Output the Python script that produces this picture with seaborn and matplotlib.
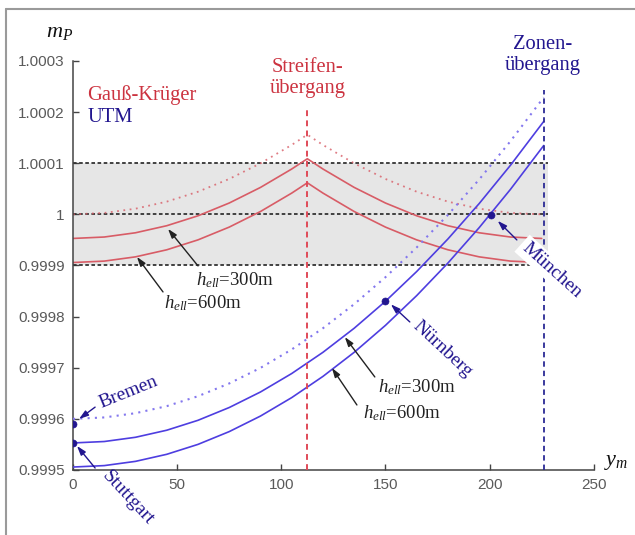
import matplotlib
matplotlib.use("Agg")
import matplotlib.pyplot as plt
import seaborn as sns
from matplotlib.lines import Line2D

# distance from central meridian (km) and scale factor values
gk_x = [0, 15, 30, 45, 60, 75, 90, 105, 112.5, 120, 135, 150, 165, 180, 195, 210, 225]
gk_h0 = [1.0000000, 1.0000028, 1.0000111, 1.0000249, 1.0000443, 1.0000693, 1.0000998, 1.0001358,
         1.0001559, 1.0001358, 1.0000998, 1.0000693, 1.0000443, 1.0000249, 1.0000111, 1.0000028, 1.0000000]
gk_h300 = [0.9999529, 0.9999557, 0.9999640, 0.9999778, 0.9999972, 1.0000222, 1.0000527, 1.0000887,
           1.0001088, 1.0000887, 1.0000527, 1.0000222, 0.9999972, 0.9999778, 0.9999640, 0.9999557, 0.9999529]
gk_h600 = [0.9999058, 0.9999086, 0.9999169, 0.9999307, 0.9999501, 0.9999751, 1.0000056, 1.0000416,
           1.0000617, 1.0000416, 1.0000056, 0.9999751, 0.9999501, 0.9999307, 0.9999169, 0.9999086, 0.9999058]

utm_x = [0, 15, 30, 45, 60, 75, 90, 105, 120, 135, 150, 165, 180, 195, 210, 226]
utm_h0 = [0.9996000, 0.9996028, 0.9996111, 0.9996249, 0.9996443, 0.9996693, 0.9996997, 0.9997358,
          0.9997773, 0.9998244, 0.9998771, 0.9999353, 0.9999990, 1.0000682, 1.0001430, 1.0002289]
utm_h300 = [0.9995529, 0.9995557, 0.9995640, 0.9995778, 0.9995972, 0.9996222, 0.9996526, 0.9996887,
            0.9997302, 0.9997773, 0.9998300, 0.9998882, 0.9999519, 1.0000211, 1.0000959, 1.0001818]
utm_h600 = [0.9995058, 0.9995086, 0.9995169, 0.9995307, 0.9995501, 0.9995751, 0.9996055, 0.9996416,
            0.9996831, 0.9997302, 0.9997829, 0.9998411, 0.9999048, 0.9999740, 1.0000488, 1.0001347]

cities = ["Bremen", "Stuttgart", "Nürnberg", "München"]
city_x = [0, 0, 150, 200.6]
city_y = [0.99959, 0.999553, 0.99983, 0.999999]

band_x = [0, 228]
band_lines = [0.9999, 1.0, 1.0001]
strip_edge = 112.5
zone_edge = 226

xticks = [0, 50, 100, 150, 200, 250]
yticks = [0.9995, 0.9996, 0.9997, 0.9998, 0.9999, 1.0, 1.0001, 1.0002, 1.0003]
ytick_labels = ["0.9995", "0.9996", "0.9997", "0.9998", "0.9999", "1", "1.0001", "1.0002", "1.0003"]

RED = "#d85c66"
RED_TXT = "#cc3340"
BLUE = "#4e3ee0"
BLUE_DOT = "#8478ee"
NAVY = "#22168f"

sns.set_style("ticks")
plt.rcParams["font.family"] = ["Liberation Sans", "DejaVu Sans"]
plt.rcParams["mathtext.fontset"] = "custom"
plt.rcParams["mathtext.rm"] = "Liberation Serif"
plt.rcParams["mathtext.it"] = "Liberation Serif:italic"
SERIF = ["Liberation Serif", "DejaVu Serif"]

fig = plt.figure(figsize=(6.35, 5.35), dpi=100)
ax = fig.add_axes([0.115, 0.1215, 0.82, 0.7645])

# tolerance band
ax.fill_between(band_x, band_lines[0], band_lines[-1], color="#e6e6e6", lw=0, zorder=0)
for yv in band_lines:
    ax.plot(band_x, [yv, yv], color="#333333", lw=1.3, ls=(0, (2, 1.4)), zorder=1)

# Gauss-Krueger strips
sns.lineplot(x=gk_x, y=gk_h0, ax=ax, color=RED, lw=1.3, linestyle=(0, (1, 2.5)), alpha=0.8, zorder=2)
sns.lineplot(x=gk_x, y=gk_h300, ax=ax, color=RED, lw=1.2, zorder=2)
sns.lineplot(x=gk_x, y=gk_h600, ax=ax, color=RED, lw=1.2, zorder=2)

# UTM zone
sns.lineplot(x=utm_x, y=utm_h0, ax=ax, color=BLUE_DOT, lw=1.5, linestyle=(0, (1, 2.5)), zorder=3)
sns.lineplot(x=utm_x, y=utm_h300, ax=ax, color=BLUE, lw=1.2, zorder=3)
sns.lineplot(x=utm_x, y=utm_h600, ax=ax, color=BLUE, lw=1.2, zorder=3)

ax.vlines(strip_edge, 0.9995, 1.00021, color="#e04a58", lw=1.4, ls=(0, (3, 2.2)), zorder=4)
ax.vlines(zone_edge, 0.9995, 1.000243, color="#2b2a95", lw=1.3, ls=(0, (3, 2.2)), zorder=4)

sns.scatterplot(x=city_x, y=city_y, ax=ax, color=NAVY, s=26, edgecolor=None, zorder=6)

ax.set_xlim(0, 250)
ax.set_ylim(0.9995, 1.0003)
ax.set_xticks(xticks, [str(v) for v in xticks])
ax.set_yticks(yticks, ytick_labels)
ax.tick_params(direction="in", length=4, width=1, color="#444444", labelcolor="#5a5a5a",
               labelsize=11, pad=6)
for s in ["top", "right"]:
    ax.spines[s].set_visible(False)
for s in ["left", "bottom"]:
    ax.spines[s].set_color("#444444")
    ax.spines[s].set_linewidth(1.1)
ax.set_xlabel("")
ax.set_ylabel("")

# headings
HEAD = 14.8
ax.text(7.0, 1.000234, "Gauß-Krüger", color=RED_TXT, family=SERIF, fontsize=HEAD, va="center")
ax.text(7.0, 1.000189, "UTM", color=NAVY, family=SERIF, fontsize=HEAD, va="center")
ax.text(strip_edge, 1.000267, "Streifen-\nübergang", color=RED_TXT, family=SERIF, fontsize=HEAD,
        ha="center", va="center", linespacing=1.1)
ax.text(zone_edge - 0.5, 1.000312, "Zonen-\nübergang", color=NAVY, family=SERIF, fontsize=HEAD,
        ha="center", va="center", linespacing=1.1)

def arrow(tail, tip, color):
    ax.annotate("", xy=tip, xytext=tail,
                arrowprops=dict(arrowstyle="-|>,head_length=0.55,head_width=0.18",
                                color=color, lw=1.0, shrinkA=0, shrinkB=0), zorder=7)

# city labels
CITY = 14
ax.text(26.4, 0.999652, cities[0], color=NAVY, family=SERIF, fontsize=CITY, rotation=22,
        ha="center", va="center")
arrow((10.6, 0.999623), (2.9, 0.9995998), NAVY)
ax.text(26.6, 0.9994462, cities[1], color=NAVY, family=SERIF, fontsize=CITY, rotation=-47,
        ha="center", va="center")
arrow((10.6, 0.9995039), (1.9, 0.999547), NAVY)
ax.text(177.5, 0.9997368, cities[2], color=NAVY, family=SERIF, fontsize=CITY, rotation=-43,
        ha="center", va="center")
arrow((161.7, 0.9997896), (152.6, 0.9998240), NAVY)
ax.text(229.8, 0.9998914, cities[3], color=NAVY, family=SERIF, fontsize=CITY, rotation=-42,
        ha="center", va="center", zorder=8,
        bbox=dict(boxstyle="square,pad=0.15", fc="white", ec="none"))
arrow((213.1, 0.99995), (203.9, 0.9999873), NAVY)

# ellipsoidal height labels
h_labels = [r"$h_{ell}$=300m", r"$h_{ell}$=600m"]
HL = 13.5
ax.text(77.7, 0.9998718, h_labels[0], color="#222222", family=SERIF, fontsize=HL, ha="center", va="center")
arrow((60.0, 0.9998992), (45.6, 0.9999716), "#222222")
ax.text(62.4, 0.9998268, h_labels[1], color="#222222", family=SERIF, fontsize=HL, ha="center", va="center")
arrow((43.2, 0.9998483), (30.7, 0.9999168), "#222222")
ax.text(165.0, 0.9996624, h_labels[0], color="#222222", family=SERIF, fontsize=HL, ha="center", va="center")
arrow((144.9, 0.999682), (130.5, 0.999760), "#222222")
ax.text(157.9, 0.9996115, h_labels[1], color="#222222", family=SERIF, fontsize=HL, ha="center", va="center")
arrow((136.3, 0.9996272), (124.3, 0.9996996), "#222222")

# axis names
fig.text(60 / 635, 1 - 32 / 535, r"$m_P$", fontsize=16, ha="center", va="center", color="#111111")
fig.text(616 / 635, 1 - 462 / 535, r"$y_m$", fontsize=16, ha="center", va="center", color="#111111")

# frame around the figure
fig.add_artist(Line2D([6 / 635, 6 / 635], [1 - 9 / 535, 0], transform=fig.transFigure,
                      color="#9a9a9a", lw=1.5))
fig.add_artist(Line2D([6 / 635, 1], [1 - 9 / 535, 1 - 9 / 535], transform=fig.transFigure,
                      color="#9a9a9a", lw=1.5))

fig.savefig("out.png", dpi=100)
